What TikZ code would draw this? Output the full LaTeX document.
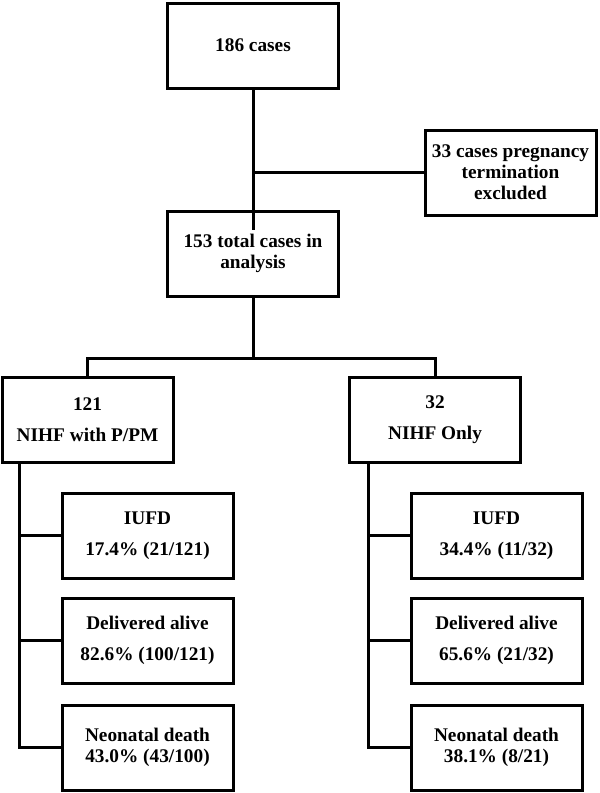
\documentclass[tikz,border=0pt]{standalone}
\usepackage{fontspec}
\setmainfont{Liberation Serif}
\usepackage{tikz}
\usetikzlibrary{positioning, calc}

\begin{document}
\begin{tikzpicture}[
  x=1pt, y=-1pt,
  node distance=20pt and 20pt,
  box/.style={draw, line width=3pt, minimum width=171pt, minimum height=85pt,
              inner sep=1pt, outer sep=0pt, align=center,
              font=\fontsize{19.3}{20.8}\selectfont\bfseries},
  link/.style={line width=3pt},
]
  \useasboundingbox (0,0) rectangle (600,793);

  % Screening
  \node[box] (top) at (253,45.5) {186 cases};
  \node[box, below=123pt of top] (mid) {153 total cases in\\analysis};
  \node[box, below right=42pt and 86.5pt of top] (excl)
    {33 cases pregnancy\\termination\\excluded};
  \draw[link] (top.south) -- ([yshift=-19pt]mid.north);
  \draw[link] (excl.west) -- (excl.west -| top.south);

  % Two groups
  \node[box, below=81pt of mid, xshift=-165.5pt] (grpa)
    {121\\[10pt]NIHF with P/PM};
  \node[box, below=81pt of mid, xshift=182pt] (grpb)
    {32\\[10pt]NIHF Only};
  \coordinate (split) at ($(mid.south)+(0,-62pt)$);
  \draw[link] (mid.south) -- (split) -| (grpa.north);
  \draw[link] (split) -| (grpb.north);

  % Outcomes, P/PM group
  \node[box, below=31pt of grpa, xshift=60pt] (iufda)
    {IUFD\\[10pt]17.4\% (21/121)};
  \node[box, below=20pt of iufda] (alivea)
    {Delivered alive\\[10pt]82.6\% (100/121)};
  \node[box, below=22pt of alivea] (deatha)
    {Neonatal death\\43.0\% (43/100)};
  \coordinate (spinea) at ($(grpa.south west)+(17pt,0)$);
  \draw[link] (spinea) |- (iufda.west);
  \draw[link] (spinea) |- (alivea.west);
  \draw[link] (spinea) |- (deatha.west);

  % Outcomes, NIHF only group
  \node[box, below=31pt of grpb, xshift=61.5pt] (iufdb)
    {IUFD\\[10pt]34.4\% (11/32)};
  \node[box, below=20pt of iufdb] (aliveb)
    {Delivered alive\\[10pt]65.6\% (21/32)};
  \node[box, below=22pt of aliveb] (deathb)
    {Neonatal death\\38.1\% (8/21)};
  \coordinate (spineb) at ($(grpb.south west)+(19pt,0)$);
  \draw[link] (spineb) |- (iufdb.west);
  \draw[link] (spineb) |- (aliveb.west);
  \draw[link] (spineb) |- (deathb.west);
\end{tikzpicture}
\end{document}
